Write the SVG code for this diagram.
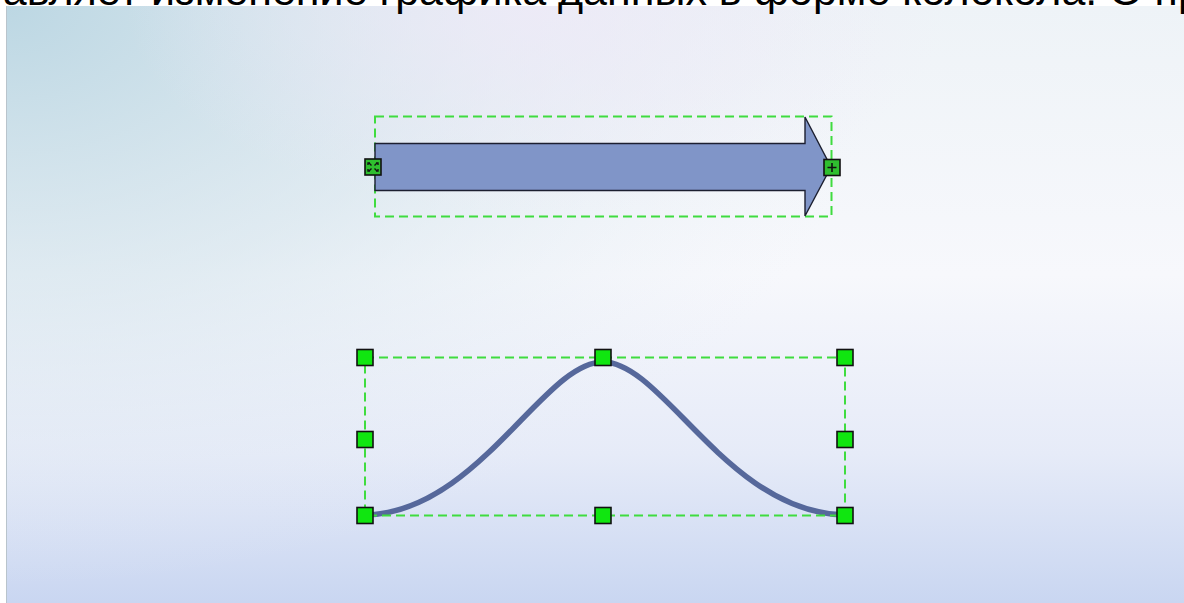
<svg xmlns="http://www.w3.org/2000/svg" width="1184" height="603" viewBox="0 0 1184 603">
<style>
.sel{fill:none;stroke:#3fdc3f;stroke-width:2;stroke-dasharray:9 5}
.h{fill:#10e610;stroke:#111;stroke-width:1.6}
.hd{fill:#2fbf2f;stroke:#111;stroke-width:1.6}
.title{font-family:"Liberation Sans",Arial,sans-serif;font-size:43px;fill:#000}
</style>
<defs>
<linearGradient id="bgv" x1="0" y1="0" x2="0" y2="1">
<stop offset="0" stop-color="#eef3f7"/>
<stop offset="0.45" stop-color="#f7f8fc"/>
<stop offset="0.75" stop-color="#e6ebf8"/>
<stop offset="1" stop-color="#c9d6f1"/>
</linearGradient>
<radialGradient id="tl" cx="0" cy="0" r="0.75" gradientTransform="scale(1,1.3)">
<stop offset="0" stop-color="#bcd7e3" stop-opacity="1"/>
<stop offset="0.5" stop-color="#cfe1ea" stop-opacity="0.55"/>
<stop offset="1" stop-color="#e9eff6" stop-opacity="0"/>
</radialGradient>
<radialGradient id="tm" cx="0.45" cy="0" r="0.35">
<stop offset="0" stop-color="#efeaf8" stop-opacity="0.8"/>
<stop offset="1" stop-color="#efeaf8" stop-opacity="0"/>
</radialGradient>
</defs>
<rect width="1184" height="603" fill="#ffffff"/>
<g id="background">
<rect x="6" y="6" width="1178" height="597" fill="url(#bgv)"/>
<rect x="6" y="6" width="1178" height="597" fill="url(#tl)"/>
<rect x="6" y="6" width="1178" height="597" fill="url(#tm)"/>
<line x1="6.5" y1="6" x2="6.5" y2="603" stroke="#b9c4cc" stroke-width="1"/>
</g>
<text class="title" x="-38" y="5">ставляет изменение графика данных в форме колокола. О пр</text>
<g id="arrow-shape">
<rect class="sel" x="375" y="116.5" width="456.5" height="100"/>
<path d="M375,143.5 L805,143.5 L805,117 L831,167 L805,216 L805,190.5 L375,190.5 Z" fill="#8095c8" stroke="#1c1f30" stroke-width="1.4" stroke-linejoin="miter"/>
<g id="handle-begin">
<rect class="hd" x="365" y="159" width="16" height="16"/>
<path d="M369,163 L371.5,165.5 M377,163 L374.5,165.5 M369,171 L371.5,168.5 M377,171 L374.5,168.5 M370,163 L368,163 L368,165 M376,163 L378,163 L378,165 M370,171 L368,171 L368,169 M376,171 L378,171 L378,169" stroke="#111" stroke-width="1.4" fill="none"/>
</g>
<g id="handle-end">
<rect class="hd" x="824" y="159.5" width="16" height="16"/>
<path d="M832,163 L832,172 M827.5,167.5 L836.5,167.5" stroke="#111" stroke-width="1.6"/>
</g>
</g>
<g id="connectors">
<path id="bell-curve" d="M365,515 C478,513 543,362 603,362 C663,362 728,513 845,515" fill="none" stroke="#56689b" stroke-width="5.5" stroke-linecap="round"/>
</g>
<g id="bell-selection">
<rect class="sel" x="365" y="357.5" width="480" height="158"/>
<rect class="h" x="357" y="349.5" width="16" height="16"/>
<rect class="h" x="595" y="349.5" width="16" height="16"/>
<rect class="h" x="837" y="349.5" width="16" height="16"/>
<rect class="h" x="357" y="431.5" width="16" height="16"/>
<rect class="h" x="837" y="431.5" width="16" height="16"/>
<rect class="h" x="357" y="507.5" width="16" height="16"/>
<rect class="h" x="595" y="507.5" width="16" height="16"/>
<rect class="h" x="837" y="507.5" width="16" height="16"/>
</g>
</svg>
